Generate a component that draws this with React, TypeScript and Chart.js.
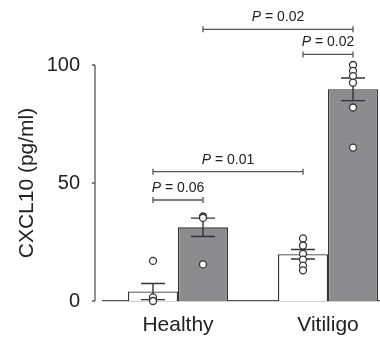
import React, { useEffect, useRef } from "react";
import { Chart, registerables } from "chart.js";

Chart.register(...registerables);

// ---- data ----
const categories = ["Healthy", "Vitiligo"];
const seriesNames = ["White", "Gray"];
const whiteMeans = [4.0, 19.8];
const grayMeans = [31.2, 89.7];
const whiteSE = [3.4, 2.0];
const graySE = [3.9, 4.8];
const whitePoints = [
  [17, 1.5, 0],
  [26.5, 23.5, 20, 17.5, 15, 13],
];
const grayPoints = [
  [35.8, 35.2, 15.5],
  [100, 97.5, 95.3, 92.5, 82, 65],
];
const yTickValues = [0, 50, 100];
const yTitle = "CXCL10 (pg/ml)";

// significance brackets: [datasetIndex, categoryIndex] pairs, height in data units, P value text
const bracketFrom = [
  [1, 0],
  [0, 1],
  [0, 0],
  [0, 0],
];
const bracketTo = [
  [1, 1],
  [1, 1],
  [0, 1],
  [1, 0],
];
const bracketHeights = [115.1, 104.5, 54.8, 42.8];
const bracketPValues = ["0.02", "0.02", "0.01", "0.06"];

const FONT = "'Liberation Sans', Arial, Helvetica, sans-serif";
const AXIS = "#555";
const INK = "#333";

const overlayPlugin = {
  id: "overlay",
  afterDatasetsDraw(chart: any) {
    const ctx = chart.ctx;
    const y = chart.scales.y;
    const area = chart.chartArea;
    const means = [whiteMeans, grayMeans];
    const ses = [whiteSE, graySE];
    const pts = [whitePoints, grayPoints];
    ctx.save();

    // y axis (offset from the x axis)
    const ax = area.left - 8;
    ctx.strokeStyle = AXIS;
    ctx.lineWidth = 1.3;
    ctx.beginPath();
    ctx.moveTo(ax, y.getPixelForValue(0));
    ctx.lineTo(ax, y.getPixelForValue(100));
    yTickValues.forEach((v) => {
      const py = y.getPixelForValue(v);
      ctx.moveTo(ax, py);
      ctx.lineTo(ax - 3, py);
    });
    ctx.stroke();

    // error bars
    ctx.strokeStyle = INK;
    ctx.lineWidth = 1.4;
    for (let d = 0; d < 2; d++) {
      const meta = chart.getDatasetMeta(d);
      meta.data.forEach((bar: any, i: number) => {
        const cx = bar.x;
        const hi = y.getPixelForValue(means[d][i] + ses[d][i]);
        const lo = y.getPixelForValue(means[d][i] - ses[d][i]);
        ctx.beginPath();
        ctx.moveTo(cx, hi);
        ctx.lineTo(cx, lo);
        ctx.moveTo(cx - 12, hi);
        ctx.lineTo(cx + 12, hi);
        ctx.moveTo(cx - 12, lo);
        ctx.lineTo(cx + 12, lo);
        ctx.stroke();
      });
    }

    // individual points
    ctx.lineWidth = 1.3;
    for (let d = 0; d < 2; d++) {
      const meta = chart.getDatasetMeta(d);
      meta.data.forEach((bar: any, i: number) => {
        pts[d][i].forEach((v: number) => {
          ctx.beginPath();
          ctx.arc(bar.x, y.getPixelForValue(v), 3.5, 0, Math.PI * 2);
          ctx.fillStyle = "#fff";
          ctx.fill();
          ctx.strokeStyle = INK;
          ctx.stroke();
        });
      });
    }

    // brackets
    ctx.strokeStyle = AXIS;
    ctx.lineWidth = 1.3;
    bracketHeights.forEach((h, k) => {
      const a = chart.getDatasetMeta(bracketFrom[k][0]).data[bracketFrom[k][1]];
      const b = chart.getDatasetMeta(bracketTo[k][0]).data[bracketTo[k][1]];
      const py = y.getPixelForValue(h);
      ctx.beginPath();
      ctx.moveTo(a.x, py);
      ctx.lineTo(b.x, py);
      ctx.moveTo(a.x, py - 3);
      ctx.lineTo(a.x, py + 3);
      ctx.moveTo(b.x, py - 3);
      ctx.lineTo(b.x, py + 3);
      ctx.stroke();

      const p = "P";
      const rest = " = " + bracketPValues[k];
      ctx.font = `italic 14px ${FONT}`;
      const w1 = ctx.measureText(p).width;
      ctx.font = `14px ${FONT}`;
      const w2 = ctx.measureText(rest).width;
      const cx = (a.x + b.x) / 2;
      const sx = cx - (w1 + w2) / 2;
      const ty = py - 12;
      ctx.fillStyle = "#222";
      ctx.textBaseline = "middle";
      ctx.textAlign = "left";
      ctx.font = `italic 14px ${FONT}`;
      ctx.fillText(p, sx, ty);
      ctx.font = `14px ${FONT}`;
      ctx.fillText(rest, sx + w1, ty);
    });

    ctx.restore();
  },
};

export default function App() {
  const ref = useRef<HTMLCanvasElement | null>(null);
  useEffect(() => {
    if (!ref.current) return;
    const chart = new Chart(ref.current, {
      type: "bar",
      data: {
        labels: categories,
        datasets: [
          {
            label: seriesNames[0],
            data: whiteMeans,
            backgroundColor: "#ffffff",
            borderColor: INK,
            borderWidth: 1.3,
            categoryPercentage: 0.6667,
            barPercentage: 1,
          },
          {
            label: seriesNames[1],
            data: grayMeans,
            backgroundColor: "#8c8c8e",
            borderColor: INK,
            borderWidth: 1.3,
            categoryPercentage: 0.6667,
            barPercentage: 1,
          },
        ],
      },
      options: {
        responsive: false,
        animation: false,
        devicePixelRatio: 1,
        layout: { padding: { top: 65, left: 0, right: 0, bottom: 0 } },
        plugins: {
          legend: { display: false },
          tooltip: { enabled: false },
        },
        scales: {
          x: {
            grid: { display: false, drawTicks: false },
            border: { display: true, color: AXIS, width: 1.3 },
            ticks: {
              color: "#222",
              padding: 12,
              font: { family: FONT, size: 21 },
            },
            afterFit: (s: any) => {
              s.height = 36;
            },
          },
          y: {
            min: 0,
            max: 100,
            grid: { display: false, drawTicks: false },
            border: { display: false },
            ticks: {
              stepSize: 50,
              color: "#222",
              padding: 23,
              font: { family: FONT, size: 20 },
            },
            title: {
              display: true,
              text: yTitle,
              color: "#222",
              font: { family: FONT, size: 21 },
              padding: { top: 15, bottom: 0 },
            },
            afterFit: (s: any) => {
              s.width = 103;
            },
          },
        },
      },
      plugins: [overlayPlugin],
    });
    return () => chart.destroy();
  }, []);

  return (
    <div
      style={{
        position: "fixed",
        left: 0,
        top: 0,
        width: 380,
        height: 337,
        overflow: "hidden",
        background: "#fff",
      }}
    >
      <canvas ref={ref} width={403} height={337} style={{ width: 403, height: 337, display: "block" }} />
    </div>
  );
}
